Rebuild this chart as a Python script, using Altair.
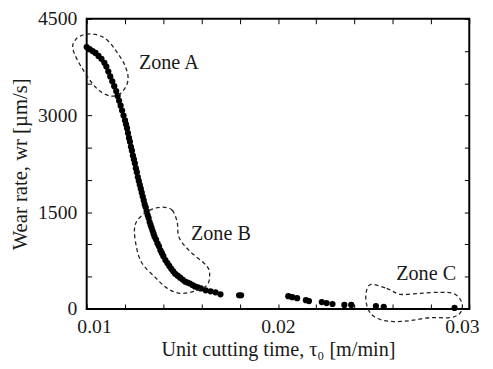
import altair as alt
import pandas as pd

# ---- data ----
curve_x = [0.01000, 0.010154, 0.010308, 0.010463, 0.010617, 0.010771, 0.010925, 0.011028,
           0.011131, 0.011234, 0.011337, 0.011440, 0.011542, 0.011620, 0.011697, 0.011774,
           0.011851, 0.011928, 0.012005, 0.012057, 0.012108, 0.012159, 0.012211, 0.012262,
           0.012314, 0.012365, 0.012416, 0.012468, 0.012519, 0.012571, 0.012622, 0.012674,
           0.012725, 0.012776, 0.012828, 0.012879, 0.012931, 0.012982, 0.013033, 0.013085,
           0.013136, 0.013188, 0.013239, 0.013290, 0.013342, 0.013393, 0.013445, 0.013496,
           0.013548, 0.013625, 0.013702, 0.013779, 0.013856, 0.013933, 0.014010, 0.014113,
           0.014216, 0.014319, 0.014422, 0.014524, 0.014627, 0.014756, 0.014884, 0.015013,
           0.015141, 0.015270, 0.015398, 0.015527, 0.015656, 0.015810, 0.015964, 0.016221,
           0.016478, 0.016735, 0.016992, 0.017969, 0.018072]
curve_y = [4061, 4030, 4000, 3970, 3924, 3879, 3818, 3758,
           3682, 3606, 3530, 3455, 3379, 3303, 3227, 3152,
           3076, 3000, 2924, 2864, 2803, 2727, 2652, 2591,
           2515, 2455, 2379, 2318, 2258, 2182, 2121, 2045,
           1985, 1924, 1864, 1803, 1742, 1682, 1621, 1576,
           1515, 1455, 1409, 1348, 1303, 1258, 1212, 1167,
           1121, 1076, 1015, 970, 909, 864, 818, 758,
           712, 667, 621, 583, 545, 515, 485, 455,
           424, 409, 394, 371, 348, 333, 318, 288,
           273, 258, 227, 212, 212]
tail_x = [0.02054, 0.02075, 0.02100, 0.02146, 0.02162, 0.02229, 0.02254, 0.02285,
          0.02347, 0.02383, 0.02512, 0.02553, 0.02923]
tail_y = [197, 182, 167, 136, 121, 106, 91, 76, 61, 61, 45, 30, 15]

zoneA_x = [0.010463, 0.011028, 0.011542, 0.012005, 0.012159, 0.011799, 0.011234, 0.010514,
           0.009743, 0.009280, 0.009434, 0.009897]
zoneA_y = [4257, 4182, 4000, 3773, 3545, 3348, 3303, 3424, 3742, 4030, 4182, 4257]
zoneB_x = [0.014062, 0.014473, 0.014730, 0.014833, 0.015398, 0.016272, 0.016427, 0.016272,
           0.015604, 0.014884, 0.014216, 0.013548, 0.012828, 0.012519, 0.012571, 0.013033,
           0.013548]
zoneB_y = [1576, 1530, 1348, 1106, 894, 667, 515, 364, 273, 242, 318, 500, 742, 1106,
           1333, 1485, 1560]
zoneC_x = [0.024859, 0.025681, 0.026401, 0.027429, 0.028458, 0.029126, 0.029486, 0.029640,
           0.029486, 0.028972, 0.027943, 0.026915, 0.026041, 0.025373, 0.024910, 0.024653,
           0.024602]
zoneC_y = [379, 318, 227, 242, 258, 242, 167, 45, -76, -136, -136, -182, -197, -167, -91,
           45, 242]

label_text = ["Zone A", "Zone B", "Zone C"]
label_x = [0.012730, 0.015450, 0.026180]
label_y = [3727, 1076, 455]

x_ticks = [0.010, 0.012, 0.014, 0.016, 0.018, 0.020, 0.022, 0.024, 0.026, 0.028, 0.030]
x_labels = [0.01, 0.02, 0.03]
y_ticks = [0, 500, 1000, 1500, 2000, 2500, 3000, 3500, 4000, 4500]
y_labels = [0, 1500, 3000, 4500]

# ---- tables ----
points = pd.DataFrame({"x": curve_x + tail_x, "y": curve_y + tail_y})
zA = pd.DataFrame({"x": zoneA_x, "y": zoneA_y, "o": list(range(len(zoneA_x)))})
zB = pd.DataFrame({"x": zoneB_x, "y": zoneB_y, "o": list(range(len(zoneB_x)))})
zC = pd.DataFrame({"x": zoneC_x, "y": zoneC_y, "o": list(range(len(zoneC_x)))})
labels = pd.DataFrame({"t": label_text, "x": label_x, "y": label_y})

W, H = 389, 295
FONT = "Liberation Serif, Times New Roman, serif"
TXT = "#1a1a1a"

xs = alt.Scale(domain=[0.01, 0.03], nice=False, zero=False)
ys = alt.Scale(domain=[0, 4500], nice=False, zero=False)

main_x_axis = alt.Axis(values=x_labels, format=".2f", ticks=False, tickSize=0, domain=False,
                       grid=False, labelPadding=8, labelFontSize=20, labelFont=FONT,
                       labelColor=TXT, labelFlush=True, labelFlushOffset=10,
                       title="Unit cutting time, τ₀ [m/min]",
                       titleFont=FONT, titleFontSize=20.5, titleFontWeight="normal",
                       titleColor=TXT, titlePadding=3)
main_y_axis = alt.Axis(values=y_labels, format="d", ticks=False, tickSize=0, domain=False,
                       grid=False, labelPadding=10, labelFontSize=20, labelFont=FONT,
                       labelColor=TXT, labelFlush=False, title="Wear rate, wr [µm/s]",
                       titleFont=FONT, titleFontSize=21, titleFontWeight="normal",
                       titleColor=TXT, titlePadding=7)


def tick_axis(orient, offset, values):
    return alt.Axis(orient=orient, offset=offset, values=values, labels=False,
                    domain=False, grid=False, ticks=True, tickSize=5, tickWidth=1,
                    tickColor="#000", title=None)


pts = alt.Chart(points).mark_circle(size=40, color="#000", opacity=1).encode(
    x=alt.X("x:Q", scale=xs, axis=main_x_axis),
    y=alt.Y("y:Q", scale=ys, axis=main_y_axis),
)

dash = dict(strokeDash=[4, 3], strokeWidth=1.3, color="#222", interpolate="cardinal-closed",
            clip=False)

zoneA = alt.Chart(zA).mark_line(**dash).encode(
    x=alt.X("x:Q", scale=xs, axis=tick_axis("top", -H, x_ticks)),
    y=alt.Y("y:Q", scale=ys, axis=tick_axis("right", -W, y_ticks)),
    order="o:Q",
)
zoneB = alt.Chart(zB).mark_line(**dash).encode(
    x=alt.X("x:Q", scale=xs, axis=tick_axis("bottom", -H, x_ticks)),
    y=alt.Y("y:Q", scale=ys, axis=tick_axis("left", -W, y_ticks)),
    order="o:Q",
)
zoneC = alt.Chart(zC).mark_line(**dash).encode(
    x=alt.X("x:Q", scale=xs, axis=None),
    y=alt.Y("y:Q", scale=ys, axis=None),
    order="o:Q",
)
txt = alt.Chart(labels).mark_text(align="left", baseline="alphabetic", font=FONT,
                                  fontSize=20.5, color=TXT).encode(
    x=alt.X("x:Q", scale=xs, axis=None),
    y=alt.Y("y:Q", scale=ys, axis=None),
    text="t:N",
)

chart = alt.layer(pts, zoneA, zoneB, zoneC, txt).properties(
    width=W, height=H,
    autosize=alt.AutoSizeParams(type="none"),
    padding={"left": 80, "top": 8, "right": 16, "bottom": 50},
    background="white",
).configure_view(stroke="#000", strokeWidth=2)

chart.save("out.html", embed_options={"renderer": "svg", "actions": False})
